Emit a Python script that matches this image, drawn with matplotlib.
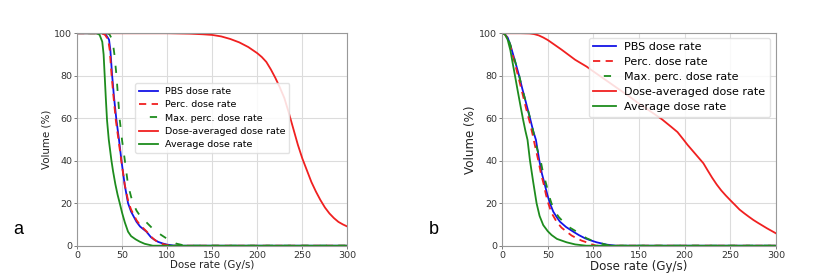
import matplotlib.pyplot as plt
import numpy as np

# ==== panel a data (dose rate in Gy/s, volume in %) ====
a_pbs_x = [0, 28, 32, 35.5, 37, 38.9, 41, 43.7, 46.6, 49.2, 52.9, 56.6, 60, 65.9, 70, 77,
           82, 86.2, 90, 95.4, 100, 107, 115, 300]
a_pbs_y = [100, 100, 99.3, 97, 92, 80.4, 70, 59.2, 49.8, 40.3, 28.6, 20, 16, 11.3, 9, 6.6,
           4, 2.7, 1.8, 1, 0.5, 0.1, 0, 0]
a_perc_x = [0, 27, 31, 34.5, 36.3, 38.3, 40.5, 43, 46, 49, 53, 57, 60, 66, 70, 77, 82, 86,
            90, 95, 100, 107, 300]
a_perc_y = [100, 100, 99.3, 97, 92, 80.4, 70, 59.2, 49.8, 40.3, 28.6, 20.5, 17, 12, 9.7,
            6.8, 4.3, 2.8, 1.6, 0.8, 0.3, 0, 0]
a_max_x = [0, 33, 36, 39.3, 41.5, 43.7, 45.5, 47.4, 50, 53, 56.6, 60, 62.2, 66, 70, 77, 84,
           90, 95, 99, 105, 110, 117, 125, 300]
a_max_y = [100, 100, 99.5, 96.8, 90, 80.4, 70, 59.2, 49.5, 40.3, 28.6, 23, 20, 16.5, 14,
           11, 8, 6, 4.6, 3.5, 2, 1, 0.3, 0, 0]
a_davg_x = [0, 100, 125, 140, 150, 160, 170, 180, 190, 200, 205, 210, 215, 220, 225, 230,
            235, 240, 245, 250, 255, 260, 265, 270, 275, 280, 285, 290, 295, 300]
a_davg_y = [100, 100, 99.8, 99.5, 99.2, 98.5, 97.3, 95.7, 93.5, 90.6, 88.8, 86.5, 83, 79,
            74.5, 69.5, 62.5, 55, 47.5, 41, 35.5, 30, 25.5, 21.5, 18, 15.2, 13, 11.2, 10, 9]
a_avg_x = [0, 21.5, 25, 28, 29.5, 30.7, 32, 33.3, 35.2, 38.1, 40, 42.5, 45, 47.4, 50, 53,
           56.6, 60, 65, 69.6, 75, 84, 300]
a_avg_y = [100, 100, 99.3, 96, 90, 80, 69, 59, 50, 40.3, 35, 29, 24, 20, 15.5, 11, 6.6,
           4.5, 3, 1.9, 0.9, 0, 0]

# ==== panel b data ====
b_pbs_x = [0, 3, 6, 9, 12, 15, 18.3, 22, 26, 31, 34, 37, 40.6, 43.5, 46.8, 49.5, 52.3, 56,
           60, 63.3, 70, 77.9, 84, 90.7, 97, 103.5, 114.5, 125, 300]
b_pbs_y = [100, 99.5, 98, 94.5, 90, 85.5, 80.4, 74, 67.5, 59.2, 54, 49.8, 40.3, 34, 28.6,
           24, 20, 16, 13.3, 11.3, 8.8, 6.6, 5, 3.5, 2.5, 1.6, 0.5, 0, 0]
b_perc_x = [0, 3, 6, 9, 12, 15, 18, 22, 26, 30, 33, 36, 39.5, 42.5, 45.7, 48, 50.5, 54,
            59.6, 65, 70.6, 76, 81.6, 87, 92.5, 97, 103, 300]
b_perc_y = [100, 99.5, 97.5, 94, 89, 84, 79, 72, 65, 58.5, 53, 47, 40.3, 34, 28.6, 24, 20,
            15.5, 11.3, 8.5, 6.6, 4.8, 3.5, 2.4, 1.6, 0.8, 0, 0]
b_max_x = [0, 3, 6, 9, 12, 15, 18.5, 22, 26, 31, 35, 38, 42, 45, 48.5, 51, 54, 58, 62,
           66.8, 73, 81.6, 87, 92.5, 98, 105.4, 110, 114.5, 122, 300]
b_max_y = [100, 99.5, 98, 94.5, 90, 85.5, 80.4, 74, 67.5, 59.5, 52, 46, 40.3, 34, 28.6, 24,
           20, 16, 13.5, 11.3, 8.8, 6.6, 5, 3.5, 2.5, 1.6, 0.9, 0.4, 0, 0]
b_davg_x = [0, 20, 30, 35, 40, 45, 50, 55, 60, 65, 70, 80, 92.5, 100, 110, 120, 130, 140,
            150, 165.6, 175, 185, 192, 198.5, 203, 210, 215, 220.4, 225, 230, 235, 240,
            245, 249.7, 255, 260, 265, 270, 275.2, 280, 285, 290, 295, 300]
b_davg_y = [100, 100, 99.9, 99.6, 99, 98, 96.8, 95.3, 93.8, 92.3, 90.7, 87.5, 84.3, 82, 79,
            76, 73, 70, 66.8, 62.3, 59.5, 56, 53.5, 50, 47.5, 44, 41.5, 38.8, 35.5, 32,
            28.8, 26, 23.6, 21.5, 19.2, 17, 15.3, 13.7, 12.1, 10.8, 9.5, 8.2, 7, 5.8]
b_avg_x = [0, 3, 6, 9, 11.5, 13.9, 17, 20, 23, 25.5, 27.8, 30.4, 34, 37.7, 41, 45, 50,
           54.2, 60, 70.6, 80, 92, 300]
b_avg_y = [100, 99.5, 97, 92, 86, 80.4, 73, 66, 59.2, 54, 49.8, 40.3, 30, 20, 14, 9.7,
           6.8, 5, 3.2, 1.6, 0.6, 0, 0]

labels = ['PBS dose rate', 'Perc. dose rate', 'Max. perc. dose rate',
          'Dose-averaged dose rate', 'Average dose rate']
ticks_x = [0, 50, 100, 150, 200, 250, 300]
ticks_y = [0, 20, 40, 60, 80, 100]

plt.rcParams['font.family'] = ['DejaVu Sans']

fig = plt.figure(figsize=(8.3, 2.77), dpi=100)
ax_a = fig.add_axes([0.0928, 0.113, 0.3258, 0.767])
ax_b = fig.add_axes([0.605, 0.113, 0.330, 0.767])


def draw(ax, data, fs_lab, fs_leg, leg_kw):
    pbs, perc, mx, davg, avg = data
    ax.plot(pbs[0], pbs[1], color='#1414e6', lw=1.3, label=labels[0])
    ax.plot(perc[0], perc[1], color='#f02020', lw=1.3, ls=(0, (4, 3)), label=labels[1])
    ax.plot(mx[0], mx[1], color='#1e8c1e', lw=1.3, ls=(4, (4, 6)), label=labels[2])
    ax.plot(davg[0], davg[1], color='#f02020', lw=1.3, label=labels[3])
    ax.plot(avg[0], avg[1], color='#1e8c1e', lw=1.3, label=labels[4])
    ax.set_xlim(0, 300)
    ax.set_ylim(0, 100)
    ax.set_xticks(ticks_x)
    ax.set_yticks(ticks_y)
    ax.grid(True, color='#dcdcdc', lw=0.8)
    ax.set_axisbelow(True)
    for s in ax.spines.values():
        s.set_color('#999999')
        s.set_linewidth(0.8)
    ax.tick_params(labelsize=6.8, length=2.5, width=0.6, color='#666666', pad=1,
                   labelcolor='#333333')
    ax.set_xlabel('Dose rate (Gy/s)', fontsize=fs_lab, labelpad=0, color='#222222')
    ax.set_ylabel('Volume (%)', fontsize=fs_lab, labelpad=2, color='#222222')
    ax.legend(fontsize=fs_leg, handlelength=2.0, labelspacing=0.45, borderpad=0.4,
              handletextpad=0.8, framealpha=0.85, edgecolor='#dddddd', borderaxespad=0,
              **leg_kw)


draw(ax_a, [(a_pbs_x, a_pbs_y), (a_perc_x, a_perc_y), (a_max_x, a_max_y),
            (a_davg_x, a_davg_y), (a_avg_x, a_avg_y)],
     7.4, 6.8, dict(loc='center', bbox_to_anchor=(0.5, 0.6)))
draw(ax_b, [(b_pbs_x, b_pbs_y), (b_perc_x, b_perc_y), (b_max_x, b_max_y),
            (b_davg_x, b_davg_y), (b_avg_x, b_avg_y)],
     8.6, 8.0, dict(loc='upper right', bbox_to_anchor=(0.978, 0.978)))

fig.text(18 / 830, 1 - 229 / 277, 'a', fontsize=13, family='Liberation Sans',
         ha='center', va='center')
fig.text(434 / 830, 1 - 229 / 277, 'b', fontsize=13, family='Liberation Sans',
         ha='center', va='center')

fig.savefig('out.png', dpi=100)
